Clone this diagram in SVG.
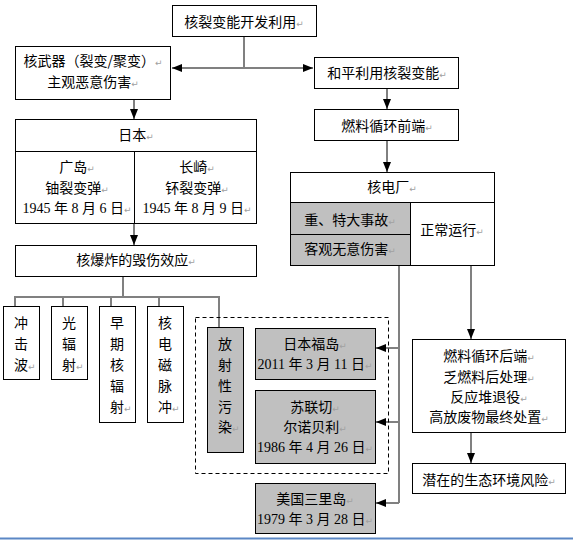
<svg xmlns="http://www.w3.org/2000/svg" width="573" height="540" viewBox="0 0 573 540">
<defs>
<style>
.box{fill:#fff;stroke:#000;stroke-width:1}
.gbox{fill:#c0c0c0;stroke:#000;stroke-width:1}
.t{font-family:"Noto Sans CJK SC","Noto Sans CJK JP",sans-serif;font-size:14px;fill:#000;text-anchor:middle}
.n{font-family:"Liberation Serif",serif;font-size:14px}
.m{font-family:"DejaVu Sans",sans-serif;font-size:9px;fill:#a0a0a0}
.gl{stroke:#808080;stroke-width:2;fill:none}
.bl{stroke:#000;stroke-width:1;fill:none}
</style>
<marker id="ah" markerUnits="userSpaceOnUse" markerWidth="10" markerHeight="8" refX="10" refY="4" orient="auto">
<path d="M0,0 L10,4 L0,8 Z" fill="#000"/>
</marker>
</defs>
<rect width="573" height="540" fill="#fff"/>

<g id="connectors">
<path class="gl" d="M244,36 V68"/>
<path class="gl" d="M244,68 H172" marker-end="url(#ah)"/>
<path class="gl" d="M244,68 H313" marker-end="url(#ah)"/>
<path class="gl" d="M134,99 V119" marker-end="url(#ah)"/>
<path class="bl" d="M134,223 V245" marker-end="url(#ah)"/>
<path class="gl" d="M387,88 V109" marker-end="url(#ah)"/>
<path class="bl" d="M387,140 V172" marker-end="url(#ah)"/>
<path class="gl" d="M123,276 V297 M15,306 V297 H219 V327 M63,297 V306 M111,297 V306 M159,297 V306"/>
<path class="gl" d="M399,265 V503"/>
<path class="gl" d="M399,348 H376" marker-end="url(#ah)"/>
<path class="gl" d="M399,422 H376" marker-end="url(#ah)"/>
<path class="gl" d="M399,503 H376" marker-end="url(#ah)"/>
<path class="gl" d="M471,265 V339" marker-end="url(#ah)"/>
<path class="gl" d="M471,432 V463" marker-end="url(#ah)"/>
</g>

<g id="n-top">
<rect class="box" x="172.5" y="5.5" width="144" height="31"/>
<text class="t" x="244" y="27">核裂变能开发利用<tspan class="m">↵</tspan></text>
</g>

<g id="n-weapon">
<rect class="box" x="15.5" y="46.5" width="155" height="53"/>
<text class="t" x="93" y="66">核武器（裂变/聚变）<tspan class="m">↵</tspan></text>
<text class="t" x="93" y="87">主观恶意伤害<tspan class="m">↵</tspan></text>
</g>

<g id="n-peace">
<rect class="box" x="314.5" y="57.5" width="144" height="31"/>
<text class="t" x="387" y="78">和平利用核裂变能<tspan class="m">↵</tspan></text>
</g>

<g id="n-front">
<rect class="box" x="314.5" y="109.5" width="144" height="31"/>
<text class="t" x="387" y="131">燃料循环前端<tspan class="m">↵</tspan></text>
</g>

<g id="n-japan">
<rect class="box" x="15.5" y="119.5" width="241" height="104"/>
<path class="bl" d="M15.5,151.5 H256.5 M134.5,151.5 V223.5"/>
<text class="t" x="136" y="140">日本<tspan class="m">↵</tspan></text>
<text class="t" x="77" y="172">广岛<tspan class="m">↵</tspan></text>
<text class="t" x="77" y="193">铀裂变弹<tspan class="m">↵</tspan></text>
<text class="t" x="77" y="213"><tspan class="n">1945 </tspan>年<tspan class="n"> 8 </tspan>月<tspan class="n"> 6 </tspan>日<tspan class="m">↵</tspan></text>
<text class="t" x="197" y="172">长崎<tspan class="m">↵</tspan></text>
<text class="t" x="197" y="193">钚裂变弹<tspan class="m">↵</tspan></text>
<text class="t" x="197" y="213"><tspan class="n">1945 </tspan>年<tspan class="n"> 8 </tspan>月<tspan class="n"> 9 </tspan>日<tspan class="m">↵</tspan></text>
</g>

<g id="n-effects">
<rect class="box" x="15.5" y="245.5" width="241" height="31"/>
<text class="t" x="136" y="265">核爆炸的毁伤效应<tspan class="m">↵</tspan></text>
</g>

<g id="n-plant">
<rect class="box" x="290.5" y="172.5" width="204" height="93"/>
<rect class="gbox" x="290.5" y="202.5" width="120" height="63"/>
<path class="bl" d="M290.5,202.5 H494.5 M290.5,234.5 H410.5"/>
<text class="t" x="392" y="192">核电厂<tspan class="m">↵</tspan></text>
<text class="t" x="350" y="225">重、特大事故<tspan class="m">↵</tspan></text>
<text class="t" x="350" y="254">客观无意伤害<tspan class="m">↵</tspan></text>
<text class="t" x="452" y="235">正常运行<tspan class="m">↵</tspan></text>
</g>

<g id="n-shock">
<rect class="box" x="3.5" y="306.5" width="36" height="73"/>
<text class="t" x="21" y="328">冲</text>
<text class="t" x="21" y="349">击</text>
<text class="t" x="21" y="370">波</text><text class="m" x="28" y="370">↵</text>
</g>

<g id="n-light">
<rect class="box" x="51.5" y="306.5" width="36" height="73"/>
<text class="t" x="69" y="328">光</text>
<text class="t" x="69" y="349">辐</text>
<text class="t" x="69" y="370">射</text><text class="m" x="76" y="370">↵</text>
</g>

<g id="n-early">
<rect class="box" x="99.5" y="306.5" width="36" height="116"/>
<text class="t" x="117" y="328">早</text>
<text class="t" x="117" y="349">期</text>
<text class="t" x="117" y="370">核</text>
<text class="t" x="117" y="391">辐</text>
<text class="t" x="117" y="412">射</text><text class="m" x="124" y="412">↵</text>
</g>

<g id="n-emp">
<rect class="box" x="147.5" y="306.5" width="36" height="116"/>
<text class="t" x="165" y="328">核</text>
<text class="t" x="165" y="349">电</text>
<text class="t" x="165" y="370">磁</text>
<text class="t" x="165" y="391">脉</text>
<text class="t" x="165" y="412">冲</text><text class="m" x="172" y="412">↵</text>
</g>

<g id="n-contam-group">
<rect x="195.5" y="317.5" width="193" height="156" fill="none" stroke="#000" stroke-width="1" stroke-dasharray="4,3"/>
</g>

<g id="n-contam">
<rect class="gbox" x="207.5" y="327.5" width="36" height="125"/>
<text class="t" x="225" y="349">放</text>
<text class="t" x="225" y="370">射</text>
<text class="t" x="225" y="391">性</text>
<text class="t" x="225" y="412">污</text>
<text class="t" x="225" y="432">染</text><text class="m" x="232" y="432">↵</text>
</g>

<g id="n-fukushima">
<rect class="gbox" x="255.5" y="328.5" width="120" height="51"/>
<text class="t" x="315" y="349">日本福岛<tspan class="m">↵</tspan></text>
<text class="t" x="315" y="369"><tspan class="n">2011 </tspan>年<tspan class="n"> 3 </tspan>月<tspan class="n"> 11 </tspan>日<tspan class="m">↵</tspan></text>
</g>

<g id="n-chernobyl">
<rect class="gbox" x="255.5" y="390.5" width="120" height="73"/>
<text class="t" x="315" y="412">苏联切<tspan class="m">↵</tspan></text>
<text class="t" x="315" y="432">尔诺贝利<tspan class="m">↵</tspan></text>
<text class="t" x="315" y="452"><tspan class="n">1986 </tspan>年<tspan class="n"> 4 </tspan>月<tspan class="n"> 26 </tspan>日<tspan class="m">↵</tspan></text>
</g>

<g id="n-tmi">
<rect class="gbox" x="255.5" y="483.5" width="120" height="50"/>
<text class="t" x="315" y="504">美国三里岛<tspan class="m">↵</tspan></text>
<text class="t" x="315" y="524"><tspan class="n">1979 </tspan>年<tspan class="n"> 3 </tspan>月<tspan class="n"> 28 </tspan>日<tspan class="m">↵</tspan></text>
</g>

<g id="n-back">
<rect class="box" x="412.5" y="339.5" width="153" height="93"/>
<text class="t" x="489" y="361">燃料循环后端<tspan class="m">↵</tspan></text>
<text class="t" x="489" y="382">乏燃料后处理<tspan class="m">↵</tspan></text>
<text class="t" x="489" y="402">反应堆退役<tspan class="m">↵</tspan></text>
<text class="t" x="489" y="422">高放废物最终处置<tspan class="m">↵</tspan></text>
</g>

<g id="n-risk">
<rect class="box" x="412.5" y="463.5" width="153" height="30"/>
<text class="t" x="489" y="485">潜在的生态环境风险<tspan class="m">↵</tspan></text>
</g>

<line x1="0" y1="538.5" x2="573" y2="538.5" stroke="#5b87c5" stroke-width="2"/>
</svg>
